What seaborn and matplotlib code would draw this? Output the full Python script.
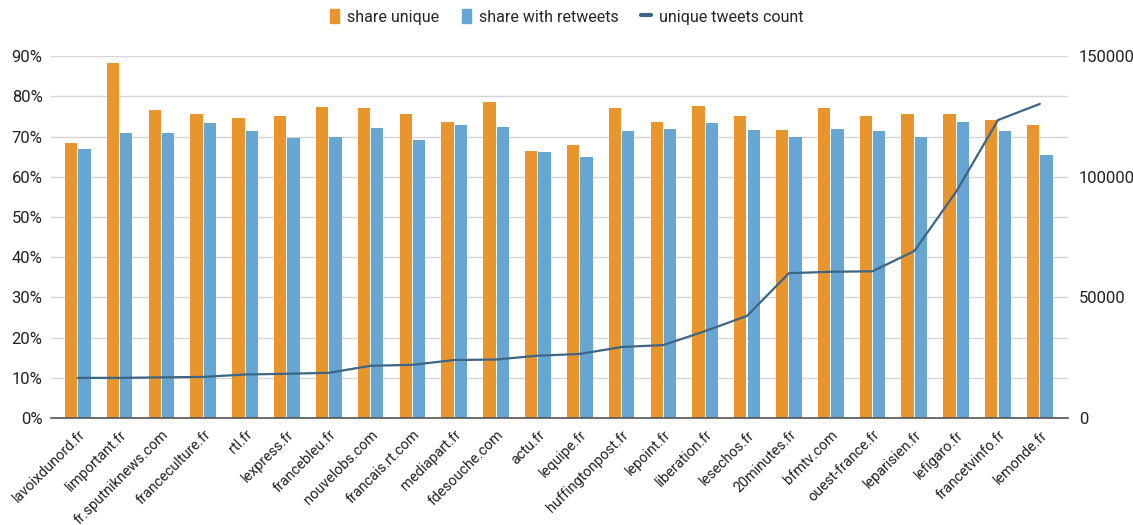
import matplotlib
matplotlib.use("Agg")
import matplotlib.pyplot as plt
import numpy as np
import pandas as pd
import seaborn as sns
from matplotlib.lines import Line2D
from matplotlib.patches import Patch
from matplotlib.ticker import FuncFormatter

sites = ["lavoixdunord.fr", "limportant.fr", "fr.sputniknews.com", "franceculture.fr",
         "rtl.fr", "lexpress.fr", "francebleu.fr", "nouvelobs.com", "francais.rt.com",
         "mediapart.fr", "fdesouche.com", "actu.fr", "lequipe.fr", "huffingtonpost.fr",
         "lepoint.fr", "liberation.fr", "lesechos.fr", "20minutes.fr", "bfmtv.com",
         "ouest-france.fr", "leparisien.fr", "lefigaro.fr", "francetvinfo.fr", "lemonde.fr"]

share_unique = [68.4, 88.2, 76.7, 75.6, 74.6, 75.1, 77.4, 77.2, 75.6, 73.7, 78.6, 66.4,
                67.8, 77.0, 73.7, 77.6, 75.1, 71.7, 77.2, 75.1, 75.6, 75.6, 74.0, 73.0]
share_retweets = [67.0, 70.8, 71.0, 73.3, 71.4, 69.6, 69.9, 72.2, 69.2, 72.8, 72.4, 66.2,
                  65.0, 71.4, 72.0, 73.3, 71.6, 69.9, 72.0, 71.4, 70.0, 73.5, 71.4, 65.3]
unique_count = [16600, 16600, 16800, 17000, 18000, 18300, 18700, 21600, 22000, 24000,
                24200, 25800, 26500, 29400, 30200, 36000, 42300, 60000, 60600, 60800,
                69200, 93800, 123500, 130200]

orange = "#E8952D"
blue = "#67A6D3"
navy = "#3D6585"

df = pd.DataFrame({
    "site": sites * 2,
    "share": share_unique + share_retweets,
    "series": ["share unique"] * len(sites) + ["share with retweets"] * len(sites),
})

sns.set_style("white")
plt.rcParams["font.family"] = ["Roboto", "DejaVu Sans"]

fig = plt.figure(figsize=(11.33, 5.25), dpi=100)
ax = fig.add_axes([0.045, 0.204, 0.8975, 0.689])

sns.barplot(data=df, x="site", y="share", hue="series", order=sites,
            palette=[orange, blue], saturation=1, width=0.64, gap=0.08, linewidth=0,
            ax=ax, legend=False)

ax.set_ylim(0, 90)
ax.set_yticks(np.arange(0, 91, 10))
ax.yaxis.set_major_formatter(FuncFormatter(lambda v, p: f"{int(v)}%"))
ax.set_xlim(-0.64, len(sites) - 0.33)
ax.grid(axis="y", color="#d6d6d6", linewidth=1)
ax.set_axisbelow(True)
ax.set_xlabel("")
ax.set_ylabel("")
for s in ["top", "right", "left"]:
    ax.spines[s].set_visible(False)
ax.spines["bottom"].set_color("#555555")
ax.spines["bottom"].set_linewidth(1.2)
ax.tick_params(axis="y", length=0, labelsize=12, colors="#222222", pad=6)
ax.tick_params(axis="x", length=0, labelsize=10.4, colors="#222222", pad=7)
plt.setp(ax.get_xticklabels(), rotation=45, ha="right", rotation_mode="anchor")

ax2 = ax.twinx()
sns.lineplot(x=np.arange(len(sites)), y=unique_count, color=navy, linewidth=1.6, ax=ax2)
ax2.set_ylim(0, 150000)
ax2.set_yticks([0, 50000, 100000, 150000])
ax2.tick_params(axis="y", length=0, labelsize=12, colors="#222222", pad=8)
for s in ["top", "right", "left", "bottom"]:
    ax2.spines[s].set_visible(False)
ax2.set_ylabel("")

handles = [Patch(color=orange), Patch(color=blue), Line2D([0], [0], color=navy, linewidth=3)]
labels = ["share unique", "share with retweets", "unique tweets count"]
fig.legend(handles, labels, loc="center", bbox_to_anchor=(0.5, 0.968), ncol=3,
           frameon=False, fontsize=11.5, handlelength=0.6, handleheight=1.0,
           handletextpad=0.5, columnspacing=1.4)

fig.savefig("out.png", dpi=100)
